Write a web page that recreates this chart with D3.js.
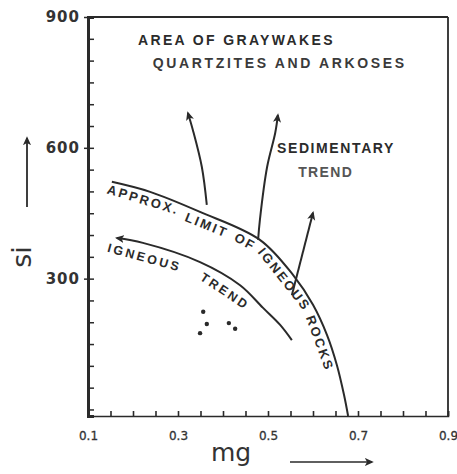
<!DOCTYPE html>
<html><head><meta charset="utf-8">
<script src="https://cdn.jsdelivr.net/npm/d3@7"></script>
<style>body{margin:0;background:#fff}</style>
</head><body>
<svg id="c" width="457" height="474"></svg>
<script>
// ---- data (mg, si) ----
const xTickLabels = [0.1, 0.3, 0.5, 0.7, 0.9];
const yTickLabels = [300, 600, 900];
const limitCurveMg = [0.153, 0.238, 0.349, 0.482, 0.556, 0.600, 0.631, 0.653, 0.669, 0.678];
const limitCurveSi = [522, 499, 453, 389, 308, 240, 171, 102, 33, -15];
const igneousTrendMg = [0.164, 0.222, 0.349, 0.438, 0.489, 0.527, 0.553];
const igneousTrendSi = [393, 382, 338, 285, 233, 194, 159];
const sedArrow1Mg = [0.364, 0.353, 0.333, 0.322];
const sedArrow1Si = [469, 556, 641, 680];
const sedArrow2Mg = [0.478, 0.482, 0.498, 0.516, 0.522];
const sedArrow2Si = [389, 435, 556, 634, 675];
const sedArrow3Mg = [0.553, 0.600];
const sedArrow3Si = [262, 451];
const dotsMg = [0.356, 0.364, 0.349, 0.413, 0.427];
const dotsSi = [224, 196, 175, 198, 185];
const limitLabelWords = ["APPROX.", "LIMIT", "OF", "IGNEOUS", "ROCKS"];
const trendLabelWords = ["IGNEOUS", "TREND"];
const annotations = [
  {text: "AREA OF GRAYWAKES", mg: 0.211, si: 836, w: 197, c: "#2b2b2b"},
  {text: "QUARTZITES AND ARKOSES", mg: 0.244, si: 783, w: 254, c: "#3a3a3a"},
  {text: "SEDIMENTARY", mg: 0.520, si: 588, w: 118, c: "#2b2b2b"},
  {text: "TREND", mg: 0.567, si: 533, w: 55, c: "#555"}
];

const svg = d3.select("#c");
const x = d3.scaleLinear([0.1, 0.9], [88, 448]);
const y = d3.scaleLinear([-15, 900], [416, 17]);
const ink = "#2a2a2a";

const defs = svg.append("defs");
defs.append("marker").attr("id", "ah").attr("viewBox", "0 -5 10 10")
  .attr("refX", 8).attr("refY", 0).attr("markerWidth", 9).attr("markerHeight", 9)
  .attr("markerUnits", "userSpaceOnUse").attr("orient", "auto-start-reverse")
  .append("path").attr("d", "M0,-4.5L10,0L0,4.5L2.5,0Z").attr("fill", ink);

// frame
svg.append("line").attr("x1", x(0.1)).attr("x2", x(0.9)).attr("y1", y(900)).attr("y2", y(900)).attr("stroke", ink).attr("stroke-width", 2);
svg.append("line").attr("x1", x(0.9)).attr("x2", x(0.9)).attr("y1", y(900)).attr("y2", y(-15)).attr("stroke", ink).attr("stroke-width", 1.8);

// minor ticks (inward)
svg.append("g").attr("transform", `translate(0,${y(-15)})`)
  .call(d3.axisBottom(x).tickValues(x.ticks(16)).tickSize(-5).tickFormat(""))
  .call(g => g.selectAll("path,line").attr("stroke", ink).attr("stroke-width", 1.6));
svg.append("g").attr("transform", `translate(${x(0.1)},0)`)
  .call(d3.axisLeft(y).tickValues(y.ticks(18)).tickSize(-6).tickFormat(""))
  .call(g => g.select("path").attr("stroke-width", 3))
  .call(g => g.selectAll("path,line").attr("stroke", ink))
  .call(g => g.selectAll("line").attr("stroke-width", 1.5));

// labelled ticks
svg.append("g").attr("transform", `translate(0,${y(-15)})`)
  .call(d3.axisBottom(x).tickValues(xTickLabels).tickSize(0).tickPadding(15).tickFormat(d3.format(".1f")))
  .call(g => g.select(".domain").remove())
  .call(g => g.selectAll("text").attr("font-family", "DejaVu Sans").attr("font-size", 12)
    .attr("stroke", "#333").attr("stroke-width", 0.3).attr("fill", "#333"));
svg.append("g").attr("transform", `translate(${x(0.1)},0)`)
  .call(d3.axisLeft(y).tickValues(yTickLabels).tickSize(4).tickPadding(4))
  .call(g => g.select(".domain").remove())
  .call(g => g.selectAll("line").attr("stroke", ink).attr("stroke-width", 1.5))
  .call(g => g.selectAll("text").attr("font-family", "DejaVu Sans").attr("font-weight", "bold")
    .attr("font-size", 15).attr("letter-spacing", 1).attr("fill", "#333"));

// axis titles
svg.append("text").attr("x", 231).attr("y", 461).attr("text-anchor", "middle")
  .attr("font-family", "DejaVu Sans").attr("font-size", 25).attr("fill", "#333").text("mg");
svg.append("line").attr("x1", 290).attr("x2", 372).attr("y1", 462).attr("y2", 462)
  .attr("stroke", ink).attr("stroke-width", 1.5).attr("marker-end", "url(#ah)");
svg.append("text").attr("transform", "translate(31,257) rotate(-90)").attr("text-anchor", "middle")
  .attr("font-family", "DejaVu Sans").attr("font-size", 27).attr("fill", "#333").text("si");
svg.append("line").attr("x1", 27).attr("x2", 27).attr("y1", 207).attr("y2", 138)
  .attr("stroke", ink).attr("stroke-width", 1.8).attr("marker-end", "url(#ah)");

// curves
const line = d3.line().x(d => x(d[0])).y(d => y(d[1])).curve(d3.curveCatmullRom.alpha(0.5));
const zip = (a, b) => a.map((v, i) => [v, b[i]]);

const limitPath = svg.append("path").attr("d", line(zip(limitCurveMg, limitCurveSi)))
  .attr("fill", "none").attr("stroke", ink).attr("stroke-width", 2);
const ignPath = svg.append("path").attr("d", line(zip(igneousTrendMg, igneousTrendSi)))
  .attr("fill", "none").attr("stroke", ink).attr("stroke-width", 2).attr("marker-start", "url(#ah)");
[[sedArrow1Mg, sedArrow1Si], [sedArrow2Mg, sedArrow2Si], [sedArrow3Mg, sedArrow3Si]].forEach(([m, s]) => {
  svg.append("path").attr("d", line(zip(m, s))).attr("fill", "none")
    .attr("stroke", ink).attr("stroke-width", 2).attr("marker-end", "url(#ah)");
});

// dots
svg.selectAll(".dot").data(zip(dotsMg, dotsSi)).join("circle")
  .attr("cx", d => x(d[0])).attr("cy", d => y(d[1])).attr("r", 2.2).attr("fill", ink);

// fit helper
function fit(textNode, target, n) {
  const len = textNode.getComputedTextLength();
  d3.select(textNode).attr("letter-spacing", Math.max(0, (target - len) / n));
}

// annotations
annotations.forEach(a => {
  const t = svg.append("text").attr("x", x(a.mg)).attr("y", y(a.si))
    .attr("font-family", "Liberation Sans").attr("font-weight", "bold").attr("font-size", 14)
    .attr("fill", a.c).text(a.text);
  fit(t.node(), a.w, a.text.length);
});

// words along curves: each word a rotated text placed by the path geometry
function styleText(t, size) {
  return t.attr("font-family", "Liberation Sans").attr("font-weight", "bold")
    .attr("font-size", size).attr("fill", "#2b2b2b");
}
function measure(str, size) {
  const t = styleText(svg.append("text"), size).text(str);
  const l = t.node().getComputedTextLength();
  t.remove();
  return l;
}
function placeWord(pathNode, word, mid, dy, size, ls) {
  const L = pathNode.getTotalLength();
  const m = Math.max(0.5, Math.min(L - 0.5, mid));
  const a = pathNode.getPointAtLength(Math.max(0, m - 3));
  const b = pathNode.getPointAtLength(Math.min(L, m + 3));
  const p = pathNode.getPointAtLength(m);
  const th = Math.atan2(b.y - a.y, b.x - a.x);
  const px = p.x - Math.sin(th) * dy, py = p.y + Math.cos(th) * dy;
  styleText(svg.append("text"), size).attr("text-anchor", "middle")
    .attr("letter-spacing", ls)
    .attr("transform", `translate(${px.toFixed(1)},${py.toFixed(1)}) rotate(${(th * 180 / Math.PI).toFixed(1)})`)
    .text(word);
}
function wordsOnPath(pathNode, words, starts, targets, dy, size) {
  words.forEach((w, i) => {
    const wl = measure(w, size);
    const ls = Math.max(0, (targets[i] - wl) / w.length);
    placeWord(pathNode, w, starts[i] + targets[i] / 2, dy, size, ls);
  });
}
// limit-curve label: sequential words
(function () {
  const size = 13, gap = 9, target = 314;
  const widths = limitLabelWords.map(w => measure(w, size));
  const nChars = d3.sum(limitLabelWords, w => w.length);
  const ls = Math.max(0, (target - d3.sum(widths) - gap * (limitLabelWords.length - 1)) / nChars);
  let off = -2;
  limitLabelWords.forEach((w, i) => {
    const adv = widths[i] + ls * w.length;
    placeWord(limitPath.node(), w, off + adv / 2, 14, size, ls);
    off += adv + gap;
  });
})();
wordsOnPath(ignPath.node(), trendLabelWords, [-6, 96], [76, 56], 18, 12.5);
</script>
</body></html>
